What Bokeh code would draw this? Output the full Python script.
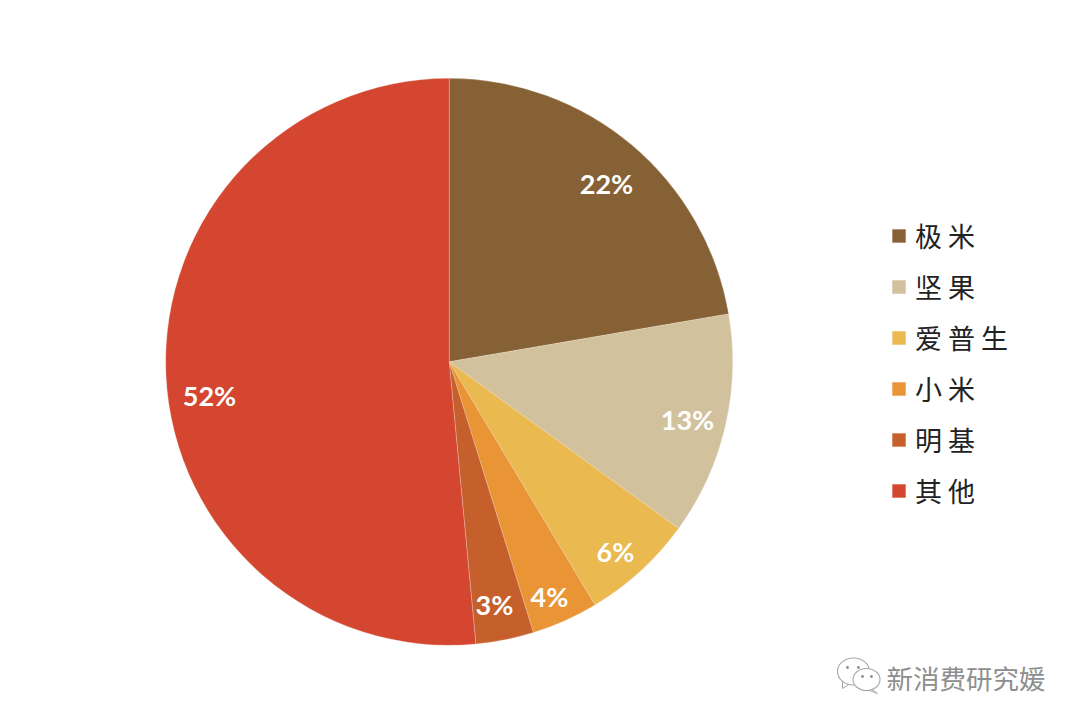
import math
from bokeh.embed import file_html
from bokeh.models import Legend, LegendItem, Range1d
from bokeh.plotting import figure
from bokeh.resources import INLINE

# --- data ---
categories = ["极米", "坚果", "爱普生", "小米", "明基", "其他"]
shares = [22.3, 12.7, 6.4, 3.8, 3.3, 51.5]
share_labels = ["22%", "13%", "6%", "4%", "3%", "52%"]
colors = ["#866135", "#D2C19D", "#EAB950", "#E99535", "#C55F2B", "#D4462F"]
watermark = "新消费研究媛"

# --- layout (x and y are page pixels; y flipped through H) ---
W, H = 1064, 707
PAGE_H = 723
CX, CY, R = 448.7, 361.3, 283.5
label_px = [(606, 183), (687, 419), (615, 551), (549, 596), (494, 604), (209, 395)]


def fy(py):
    return PAGE_H - py


p = figure(width=W, height=H, output_backend="svg", toolbar_location=None,
           x_range=Range1d(0, W), y_range=Range1d(PAGE_H - H, PAGE_H),
           min_border=0, outline_line_color=None, background_fill_color="white")
p.axis.visible = False
p.grid.visible = False

total = sum(shares)
cum = 0.0
items = []
for name, val, col in zip(categories, shares, colors):
    start = math.pi / 2 - cum / total * 2 * math.pi
    cum += val
    end = math.pi / 2 - cum / total * 2 * math.pi
    r = p.wedge(x=[CX], y=[fy(CY)], radius=R, start_angle=start, end_angle=end,
                direction="clock", fill_color=col, line_color="#F3E6DA",
                line_width=0.4, line_alpha=0.7)
    items.append(LegendItem(label=" ".join(name), renderers=[r]))

p.text(x=[q[0] for q in label_px], y=[fy(q[1]) for q in label_px], text=share_labels,
       text_color="white", text_font={"value": "Lato"}, text_font_style="bold",
       text_font_size="27px", text_align="center", text_baseline="middle")

legend = Legend(items=items, location=(890, 197), orientation="vertical",
                background_fill_alpha=0, border_line_color=None,
                padding=0, margin=0, spacing=12, glyph_width=17, glyph_height=17,
                label_standoff=8, label_text_font="Noto Sans CJK SC",
                label_text_font_size="27px", label_text_color="#222222",
                label_height=38, label_text_baseline="middle")
p.add_layout(legend, "center")

# watermark: chat-bubble icon and name
GRAY = "#8E8E8E"
TAIL = "#A8A8A8"
p.patches(xs=[[842, 842, 850], [870, 877, 869]],
          ys=[[fy(679), fy(688), fy(683)], [fy(688), fy(693), fy(690)]],
          fill_color="white", line_color=TAIL, line_width=1)
p.ellipse(x=[853, 866], y=[fy(671), fy(679)], width=[32, 27], height=[27, 22],
          fill_color="white", line_color=TAIL, line_width=1.1)
p.circle(x=[847, 858, 862, 871], y=[fy(667), fy(667), fy(676), fy(676)], radius=1.4,
         fill_color=GRAY, line_color=None)
p.text(x=[886], y=[fy(677)], text=[watermark], text_color=GRAY,
       text_font={"value": "Noto Sans CJK SC"}, text_font_size="26.5px",
       text_align="left", text_baseline="middle")

open("out.html", "w").write(file_html(p, INLINE))
